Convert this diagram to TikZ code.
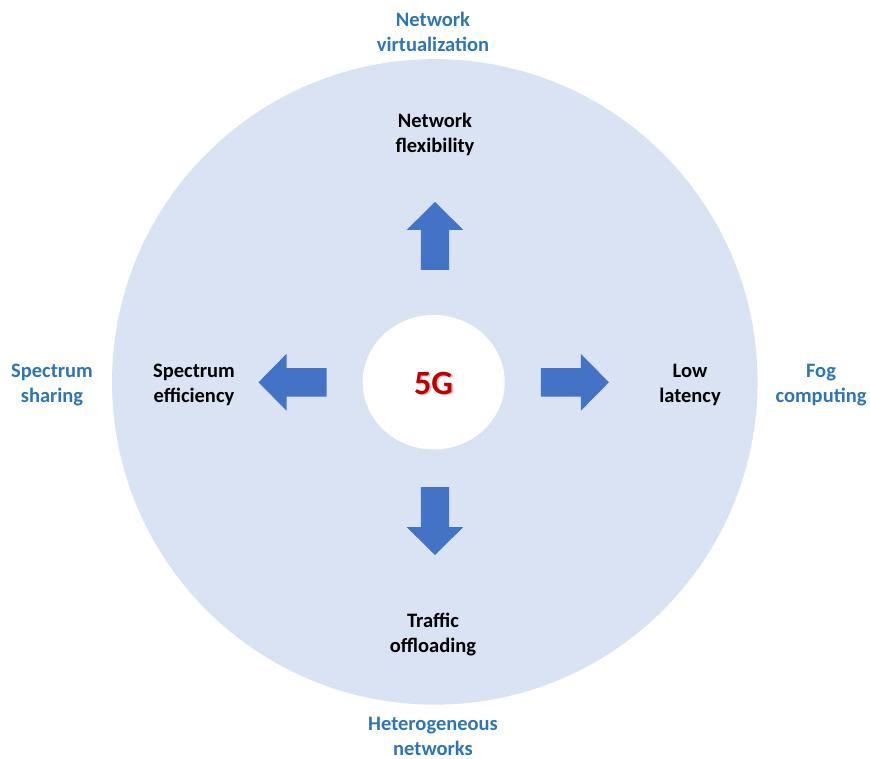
\documentclass[tikz,border=0pt]{standalone}
\usepackage{fontspec}
\usetikzlibrary{shapes.geometric}
\setmainfont{Carlito}
\definecolor{discfill}{HTML}{DAE3F3}
\definecolor{arrowblue}{HTML}{4472C4}
\definecolor{outerblue}{HTML}{2E75B6}
\definecolor{fivegred}{HTML}{C00000}
\tikzset{
  inlabel/.style={align=center, font=\bfseries\fontsize{20.5}{25}\selectfont, text=black, inner sep=0pt},
  outlabel/.style={inlabel, text=outerblue},
  bigarrow/.pic={
    \fill[arrowblue] (-34,-14.2) -- (6,-14.2) -- (6,-28.4) -- (34,0) -- (6,28.4) -- (6,14.2) -- (-34,14.2) -- cycle;
  }
}
\begin{document}
\begin{tikzpicture}[x=1pt,y=-1pt]
  \useasboundingbox (0,0) rectangle (870,759);
  \fill[white] (0,0) rectangle (870,759);

  % outer disc and inner hub
  \node[circle, fill=discfill, minimum size=645.5pt, inner sep=0pt] (disc) at (434.8,381.9) {};
  \node[ellipse, fill=white, minimum width=142pt, minimum height=134.5pt, inner sep=0pt] (hub) at (433.7,382.2) {};
  \node[font=\bfseries\fontsize{34}{34}\selectfont, text=black, opacity=0.22, inner sep=0pt] at (435.3,384.6) {5G};
  \node[font=\bfseries\fontsize{34}{34}\selectfont, text=fivegred, inner sep=0pt] (fiveg) at (433.5,383) {5G};

  % four arrows leaving the hub
  \pic[rotate=90]  at (435,236)   {bigarrow};
  \pic[rotate=-90] at (435,521)   {bigarrow};
  \pic[rotate=180] at (292.5,382.3) {bigarrow};
  \pic             at (574.9,382.3) {bigarrow};

  % labels inside the disc
  \node[inlabel] (flex)  at (435,134)   {Network\\flexibility};
  \node[inlabel] (offl)  at (433,635)   {Traffic\\offloading};
  \node[inlabel] (spec)  at (194,385)   {Spectrum\\efficiency};
  \node[inlabel] (lat)   at (690,385)   {Low\\latency};

  % enabling technologies outside the disc
  \node[outlabel] (virt) at (433,32)    {Network\\virtualization};
  \node[outlabel] (het)  at (433,736)   {Heterogeneous\\networks};
  \node[outlabel] (shar) at (52,385)    {Spectrum\\sharing};
  \node[outlabel] (fog)  at (821,385)   {Fog\\computing};
\end{tikzpicture}
\end{document}
